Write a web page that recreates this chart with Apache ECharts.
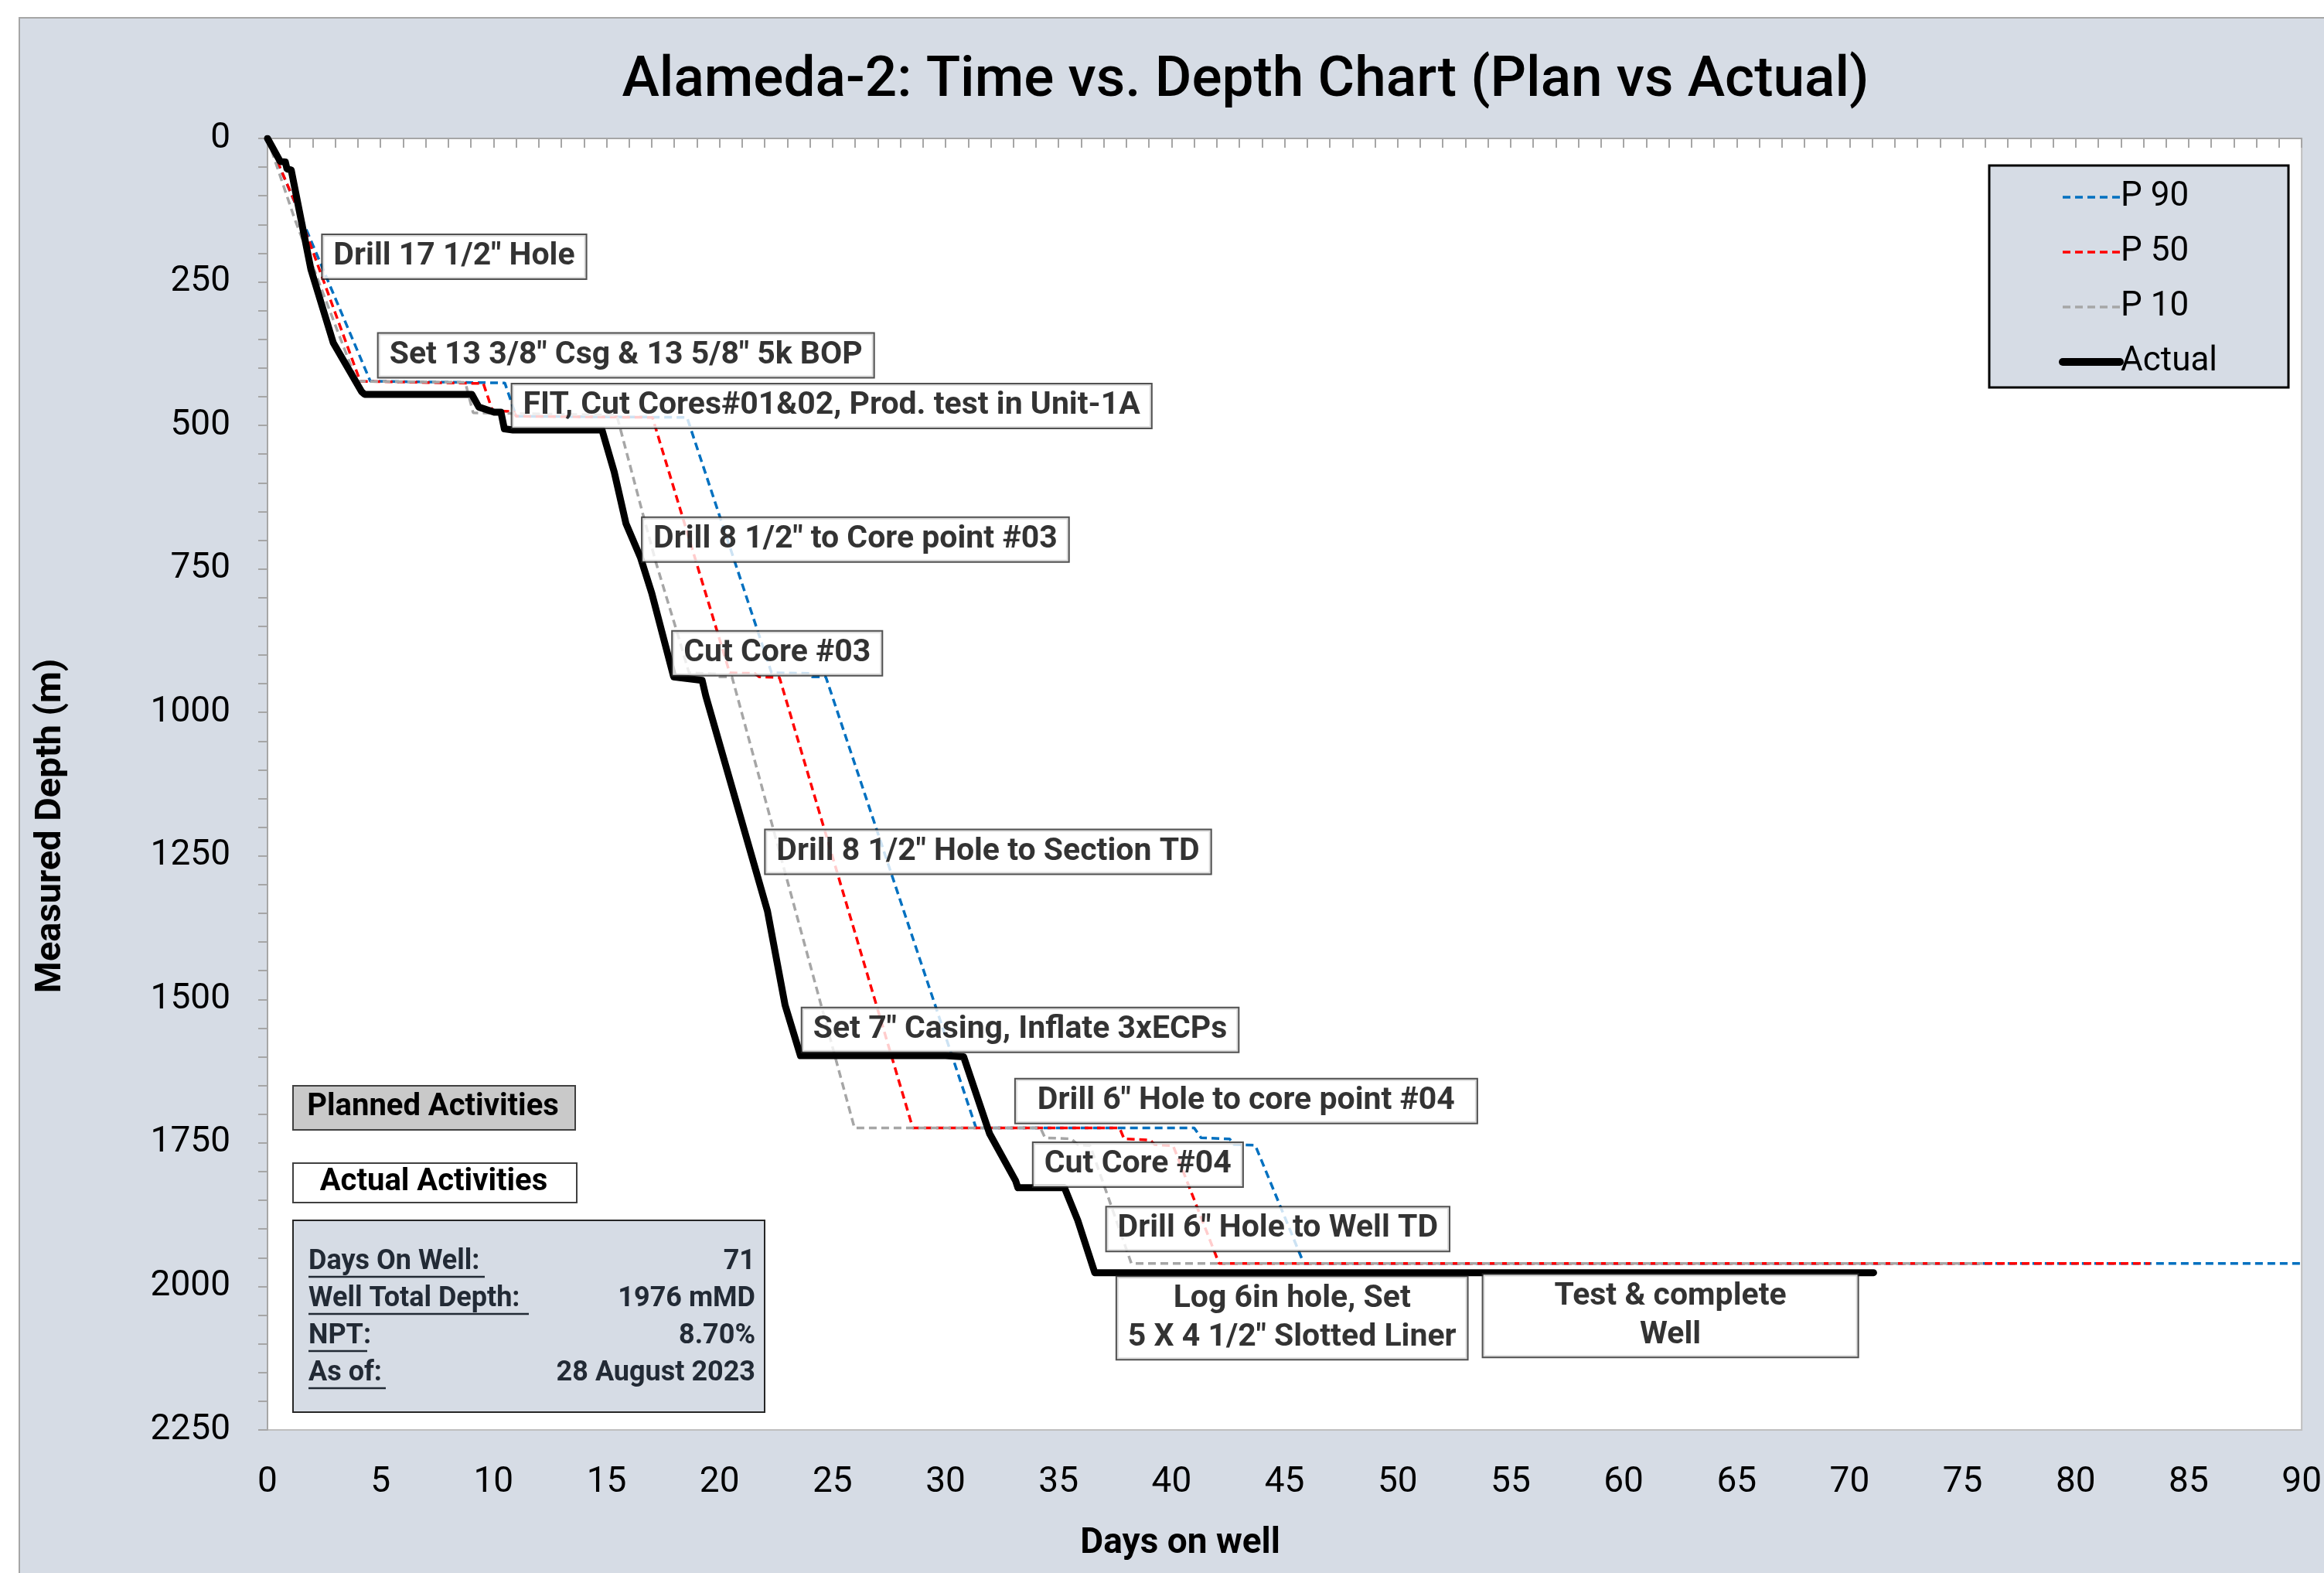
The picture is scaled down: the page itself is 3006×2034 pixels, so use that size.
<!DOCTYPE html>
<html>
<head>
<meta charset="utf-8">
<title>Alameda-2 Time vs Depth</title>
<script src="https://cdn.jsdelivr.net/npm/echarts@6/dist/echarts.min.js"></script>
<style>
  html, body { margin: 0; padding: 0; background: #ffffff; }
  #chart { width: 3006px; height: 2034px; }
</style>
</head>
<body>
<div id="chart"></div>
<script>
// [days on well, measured depth m]
const p90Plan = [[0, 0], [1.3, 120], [4.55, 423], [10.5, 426], [11.0, 484], [18.56, 486], [22.3, 931], [24.0, 932], [24.1, 938], [24.7, 938], [31.35, 1724], [41.0, 1724], [41.3, 1741], [42.57, 1743], [42.76, 1753], [43.7, 1754], [45.85, 1960], [92, 1960]];
const p50Plan = [[0, 0], [1.2, 110], [4.1, 423], [9.55, 427], [9.95, 474], [10.9, 476], [11.0, 484], [17.03, 486], [20.45, 931], [21.55, 932], [21.75, 938], [22.65, 939], [28.55, 1724], [37.7, 1724], [37.9, 1743], [39.06, 1745], [39.25, 1753], [40.07, 1755], [42.1, 1960], [83.3, 1960]];
const p10Plan = [[0, 0], [1.2, 140], [3.95, 423], [8.75, 425], [9.1, 478], [15.45, 482], [16.6, 653], [17.18, 738], [18.15, 864], [18.65, 931], [19.9, 933], [20.0, 938], [20.55, 938], [25.97, 1724], [34.2, 1724], [34.4, 1741], [35.56, 1743], [35.85, 1753], [36.4, 1755], [38.22, 1960], [75.9, 1960]];
const actualDepth = [[0, 0], [0.56, 40], [0.79, 41], [0.86, 53], [1.05, 55], [1.92, 228], [2.91, 356], [4.16, 441], [4.3, 446], [9.04, 446], [9.35, 468], [10.03, 477], [10.33, 477], [10.48, 506], [10.86, 508], [14.8, 508], [15.34, 581], [15.86, 671], [16.51, 731], [17.0, 792], [17.97, 938], [19.23, 944], [19.39, 971], [22.12, 1346], [22.9, 1510], [23.58, 1598], [30.0, 1598], [30.8, 1600], [31.95, 1734], [33.1, 1816], [33.2, 1828], [35.26, 1828], [35.85, 1885], [36.6, 1976], [71.06, 1976]];

// activity notes, anchored at [day, depth]
const activityNotes = [
  [8.26, 206, 'Drill 17 1/2" Hole'],
  [15.86, 378, 'Set 13 3/8" Csg & 13 5/8" 5k BOP'],
  [24.96, 466, 'FIT, Cut Cores#01&02, Prod. test in Unit-1A'],
  [26.01, 699, 'Drill 8 1/2" to Core point #03'],
  [22.55, 897, 'Cut Core #03'],
  [31.88, 1243, 'Drill 8 1/2" Hole to Section TD'],
  [33.3, 1553, 'Set 7" Casing, Inflate 3xECPs'],
  [43.3, 1677, 'Drill 6" Hole to core point #04'],
  [38.51, 1788, 'Cut Core #04'],
  [44.7, 1900, 'Drill 6" Hole to Well TD'],
  [45.33, 2055, 'Log 6in hole, Set\n5 X 4 1/2" Slotted Liner'],
  [62.07, 2051, 'Test & complete\nWell']
];

const wellInfoLabels = ['Days On Well:', 'Well Total Depth:', 'NPT:', 'As of: '];
const wellInfoValues = ['71', '1976 mMD', '8.70%', '28 August 2023'];

const FONT = "Roboto, 'Liberation Sans', sans-serif";

const chart = echarts.init(document.getElementById('chart'), null, { renderer: 'canvas' });

function dashedLine(name, color, data) {
  return {
    name: name,
    type: 'line',
    data: data,
    symbol: 'none',
    showSymbol: false,
    z: 3,
    lineStyle: { color: color, width: 3.5, type: [10, 6] },
    itemStyle: { color: color }
  };
}

const infoGraphics = [
  {
    type: 'rect', left: 378, top: 1577, z: 50,
    shape: { width: 610, height: 248 },
    style: { fill: '#D6DCE5', stroke: '#262626', lineWidth: 2 }
  }
];
wellInfoLabels.forEach((label, i) => {
  const y = 1632 + i * 48;
  infoGraphics.push({
    type: 'text', x: 399, y: y, z: 51,
    style: { text: label, font: "bold 36px " + FONT, fill: '#222A35', textAlign: 'left', textVerticalAlign: 'middle' }
  });
  infoGraphics.push({
    type: 'text', x: 977, y: y, z: 51,
    style: { text: wellInfoValues[i], font: "bold 36px " + FONT, fill: '#222A35', textAlign: 'right', textVerticalAlign: 'middle' }
  });
});
[228, 285, 76, 100].forEach((w, i) => {
  infoGraphics.push({
    type: 'line', z: 51,
    shape: { x1: 399, y1: 1651 + i * 48, x2: 399 + w, y2: 1651 + i * 48 },
    style: { stroke: '#222A35', lineWidth: 2.5 }
  });
});

const option = {
  backgroundColor: '#ffffff',
  animation: false,
  textStyle: { fontFamily: FONT },
  title: {
    text: 'Alameda-2: Time vs. Depth Chart (Plan vs Actual)',
    left: 1606,
    top: 64,
    textAlign: 'center',
    textStyle: { fontFamily: FONT, fontSize: 73, fontWeight: 500, color: '#000' }
  },
  grid: {
    left: 346,
    top: 179,
    right: 6,
    bottom: 185,
    show: true,
    backgroundColor: '#ffffff',
    borderColor: '#bfbfbf',
    borderWidth: 2
  },
  legend: {
    orient: 'vertical',
    left: 2573,
    top: 214,
    itemWidth: 74,
    itemHeight: 30,
    itemGap: 25,
    padding: [18, 92, 10, 90],
    backgroundColor: '#D6DCE5',
    borderColor: '#000',
    borderWidth: 3,
    itemStyle: { opacity: 0 },
    textStyle: { fontFamily: FONT, fontSize: 44, lineHeight: 46, color: '#000', padding: [0, 0, 0, -4] },
    data: [
      { name: 'P 90', lineStyle: { width: 3.5, type: [10, 6], color: '#0070C0' } },
      { name: 'P 50', lineStyle: { width: 3.5, type: [10, 6], color: '#FF0000' } },
      { name: 'P 10', lineStyle: { width: 3.5, type: [10, 6], color: '#A6A6A6' } },
      { name: 'Actual', lineStyle: { width: 10, cap: 'round', color: '#000' } }
    ]
  },
  xAxis: {
    type: 'value',
    min: 0,
    max: 90,
    interval: 5,
    name: 'Days on well',
    nameLocation: 'middle',
    nameGap: 124,
    nameTextStyle: { fontFamily: FONT, fontSize: 46, fontWeight: 'bold', color: '#000', padding: [0, 270, 0, 0] },
    axisLine: { show: true, lineStyle: { color: '#a6a6a6', width: 2 } },
    axisTick: { show: true, inside: false, length: 12, lineStyle: { color: '#a6a6a6', width: 2 } },
    minorTick: { show: true, splitNumber: 5, length: 12, lineStyle: { color: '#a6a6a6', width: 2 } },
    axisLabel: { fontFamily: FONT, fontSize: 46, color: '#000', margin: 45 },
    splitLine: { show: false }
  },
  yAxis: {
    type: 'value',
    inverse: true,
    min: 0,
    max: 2250,
    interval: 250,
    name: 'Measured Depth (m)',
    nameLocation: 'middle',
    nameGap: 256,
    nameRotate: 90,
    nameTextStyle: { fontFamily: FONT, fontSize: 47, fontWeight: 'bold', color: '#000', padding: [0, 108, 0, 0] },
    axisLine: { show: true, lineStyle: { color: '#a6a6a6', width: 2 } },
    axisTick: { show: true, inside: false, length: 12, lineStyle: { color: '#a6a6a6', width: 2 } },
    minorTick: { show: true, splitNumber: 5, length: 12, lineStyle: { color: '#a6a6a6', width: 2 } },
    axisLabel: { fontFamily: FONT, fontSize: 46, color: '#000', margin: 48, formatter: (v) => String(v) },
    splitLine: { show: false }
  },
  graphic: [
    {
      type: 'rect', left: 24, top: 22, z: -100, silent: true,
      shape: { width: 3100, height: 2100 },
      style: { fill: '#D6DCE5', stroke: '#A6A6A6', lineWidth: 2 }
    },
    {
      type: 'rect', left: 378, top: 1403, z: 50,
      shape: { width: 365, height: 57 },
      style: { fill: '#C9C9C9', stroke: '#404040', lineWidth: 2 }
    },
    {
      type: 'text', x: 560, y: 1432, z: 51,
      style: { text: 'Planned Activities', font: "bold 40px " + FONT, fill: '#000', textAlign: 'center', textVerticalAlign: 'middle' }
    },
    {
      type: 'rect', left: 378, top: 1503, z: 50,
      shape: { width: 367, height: 51 },
      style: { fill: '#ffffff', stroke: '#404040', lineWidth: 2 }
    },
    {
      type: 'text', x: 561, y: 1529, z: 51,
      style: { text: 'Actual Activities', font: "bold 40px " + FONT, fill: '#000', textAlign: 'center', textVerticalAlign: 'middle' }
    }
  ].concat(infoGraphics),
  series: [
    dashedLine('P 90', '#0070C0', p90Plan),
    dashedLine('P 50', '#FF0000', p50Plan),
    dashedLine('P 10', '#A6A6A6', p10Plan),
    {
      name: 'Actual',
      type: 'line',
      data: actualDepth,
      symbol: 'none',
      showSymbol: false,
      z: 4,
      lineStyle: { color: '#000', width: 9, cap: 'round', join: 'round' },
      itemStyle: { color: '#000' }
    },
    {
      name: 'Activities',
      type: 'scatter',
      data: activityNotes.map((note) => {
        const wide = note[2].indexOf('Test') === 0;
        const core04 = note[2].indexOf('core point #04') > 0;
        let label;
        if (wide) label = { padding: [3, 92, 3, 92] };
        else if (core04) label = { padding: [3, 28, 3, 28] };
        return { value: note, label: label };
      }),
      symbolSize: 0,
      z: 10,
      silent: true,
      label: {
        show: true,
        position: 'inside',
        formatter: (p) => p.value[2],
        fontFamily: FONT,
        fontSize: 41,
        fontWeight: 'bold',
        lineHeight: 50,
        color: '#000',
        align: 'center',
        backgroundColor: '#ffffff',
        borderColor: '#262626',
        borderWidth: 2,
        padding: [3, 14, 3, 14]
      }
    }
  ]
};

chart.setOption(option);
</script>
</body>
</html>
